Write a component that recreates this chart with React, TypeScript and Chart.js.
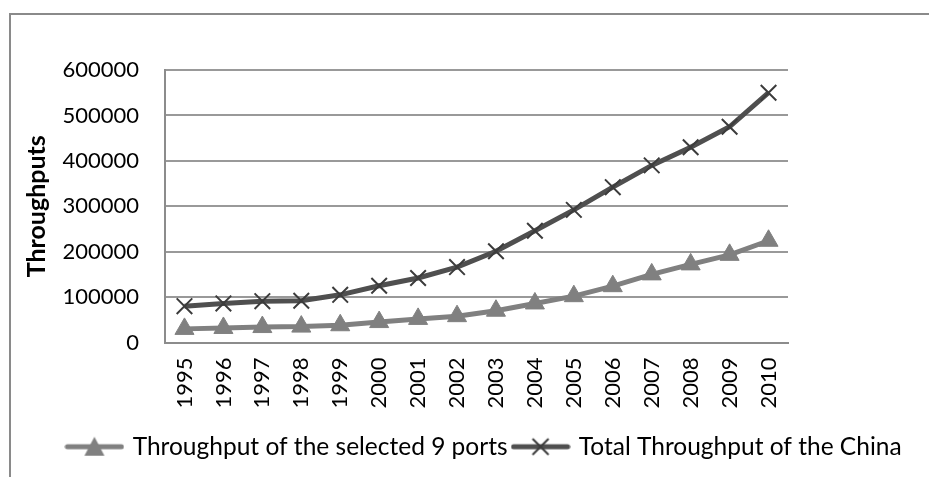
import React, { useEffect, useRef } from "react";
import { Chart, registerables } from "chart.js";

Chart.register(...registerables);

const years = ["1995","1996","1997","1998","1999","2000","2001","2002","2003","2004","2005","2006","2007","2008","2009","2010"];
const selectedPorts = [30000, 32000, 34000, 35000, 38000, 45000, 52000, 58000, 70000, 86000, 102000, 124000, 150000, 172000, 193000, 224000];
const totalChina = [80000, 86000, 91000, 92000, 105000, 125000, 142000, 166000, 201000, 246000, 292000, 342000, 390000, 430000, 475000, 550000];
const seriesNames = ["Throughput of the selected 9 ports", "Total Throughput of the China"];
const yTicks = [0, 100000, 200000, 300000, 400000, 500000, 600000];

const LIGHT = "#808080";
const DARK = "#4f4f4f";
const FONT = "Lato, 'Open Sans', sans-serif";

function legendImage(kind: "tri" | "x"): HTMLCanvasElement {
  const c = document.createElement("canvas");
  c.width = 60;
  c.height = 26;
  const g = c.getContext("2d")!;
  g.lineCap = "round";
  g.strokeStyle = kind === "tri" ? LIGHT : DARK;
  g.lineWidth = 5;
  g.beginPath();
  g.moveTo(3, 13);
  g.lineTo(57, 13);
  g.stroke();
  if (kind === "tri") {
    g.fillStyle = LIGHT;
    g.beginPath();
    g.moveTo(30, 3);
    g.lineTo(40, 22);
    g.lineTo(20, 22);
    g.closePath();
    g.fill();
  } else {
    g.strokeStyle = "#3c3c3c";
    g.lineWidth = 2;
    g.lineCap = "butt";
    g.beginPath();
    g.moveTo(22, 5);
    g.lineTo(38, 21);
    g.moveTo(38, 5);
    g.lineTo(22, 21);
    g.stroke();
  }
  return c;
}

export default function App() {
  const ref = useRef<HTMLCanvasElement>(null);
  useEffect(() => {
    const imgs = [legendImage("tri"), legendImage("x")];
    const chart = new Chart(ref.current!, {
      type: "line",
      data: {
        labels: years,
        datasets: [
          {
            label: seriesNames[0],
            data: selectedPorts,
            borderColor: LIGHT,
            backgroundColor: LIGHT,
            borderWidth: 5,
            tension: 0,
            pointStyle: "triangle",
            pointRadius: 11,
            pointBackgroundColor: LIGHT,
            pointBorderColor: LIGHT,
            pointBorderWidth: 1,
            yAxisID: "y",
          },
          {
            label: seriesNames[1],
            data: totalChina,
            borderColor: DARK,
            backgroundColor: DARK,
            borderWidth: 5,
            tension: 0,
            pointStyle: "crossRot",
            pointRadius: 11,
            pointBorderColor: "#3c3c3c",
            pointBorderWidth: 2,
            yAxisID: "y",
          },
        ],
      },
      options: {
        responsive: false,
        animation: false,
        layout: { padding: { left: 41, right: 0, top: 70, bottom: 8 } },
        plugins: {
          tooltip: { enabled: false },
          legend: {
            position: "bottom",
            labels: {
              usePointStyle: true,
              pointStyleWidth: 52,
              padding: 7,
              color: "#000",
              font: { family: FONT, size: 24.5 },
              generateLabels: (ch: any) =>
                ch.data.datasets.map((d: any, i: number) => ({
                  text: d.label,
                  pointStyle: imgs[i],
                  fillStyle: "transparent",
                  strokeStyle: "transparent",
                  lineWidth: 0,
                  datasetIndex: i,
                  hidden: false,
                  fontColor: "#000",
                })),
            },
          },
        },
        scales: {
          x: {
            offset: true,
            grid: { display: false, drawTicks: false, offset: true },
            border: { display: true, color: "#8c8c8c", width: 2 },
            ticks: {
              autoSkip: false,
              maxRotation: 90,
              minRotation: 90,
              padding: 15,
              color: "#000",
              font: { family: FONT, size: 22 },
            },
            afterFit: (s: any) => {
              s.height = 85;
            },
          },
          y: {
            position: "left",
            min: 0,
            max: 600000,
            afterBuildTicks: (s: any) => {
              s.ticks = yTicks.map((v) => ({ value: v }));
            },
            grid: { color: "#999999", lineWidth: 2, drawTicks: false },
            border: { display: true, color: "#8c8c8c", width: 2 },
            ticks: {
              padding: 26,
              color: "#000",
              font: { family: FONT, size: 22 },
              callback: (v: any) => String(v),
            },
            title: {
              display: true,
              text: "Throughputs",
              color: "#000",
              font: { family: FONT, size: 25, weight: "bold" },
              padding: { top: -19, bottom: 0 },
            },
            afterFit: (s: any) => {
              s.width = 124;
            },
          },
          yRight: {
            position: "right",
            display: true,
            grid: { display: false, drawTicks: false },
            border: { display: false },
            ticks: { display: false },
            afterFit: (s: any) => {
              s.width = 141;
            },
          },
        },
      },
    } as any);
    return () => chart.destroy();
  }, []);

  return (
    <div style={{ position: "absolute", left: 0, top: 0, width: 929, height: 477, background: "#fff", overflow: "hidden" }}>
      <div style={{ position: "absolute", left: 9, top: 13, right: 0, bottom: 0, borderTop: "2px solid #8a8a8a", borderLeft: "2px solid #8a8a8a" }} />
      <canvas ref={ref} width={929} height={477} style={{ position: "absolute", left: 0, top: 0 }} />
    </div>
  );
}
